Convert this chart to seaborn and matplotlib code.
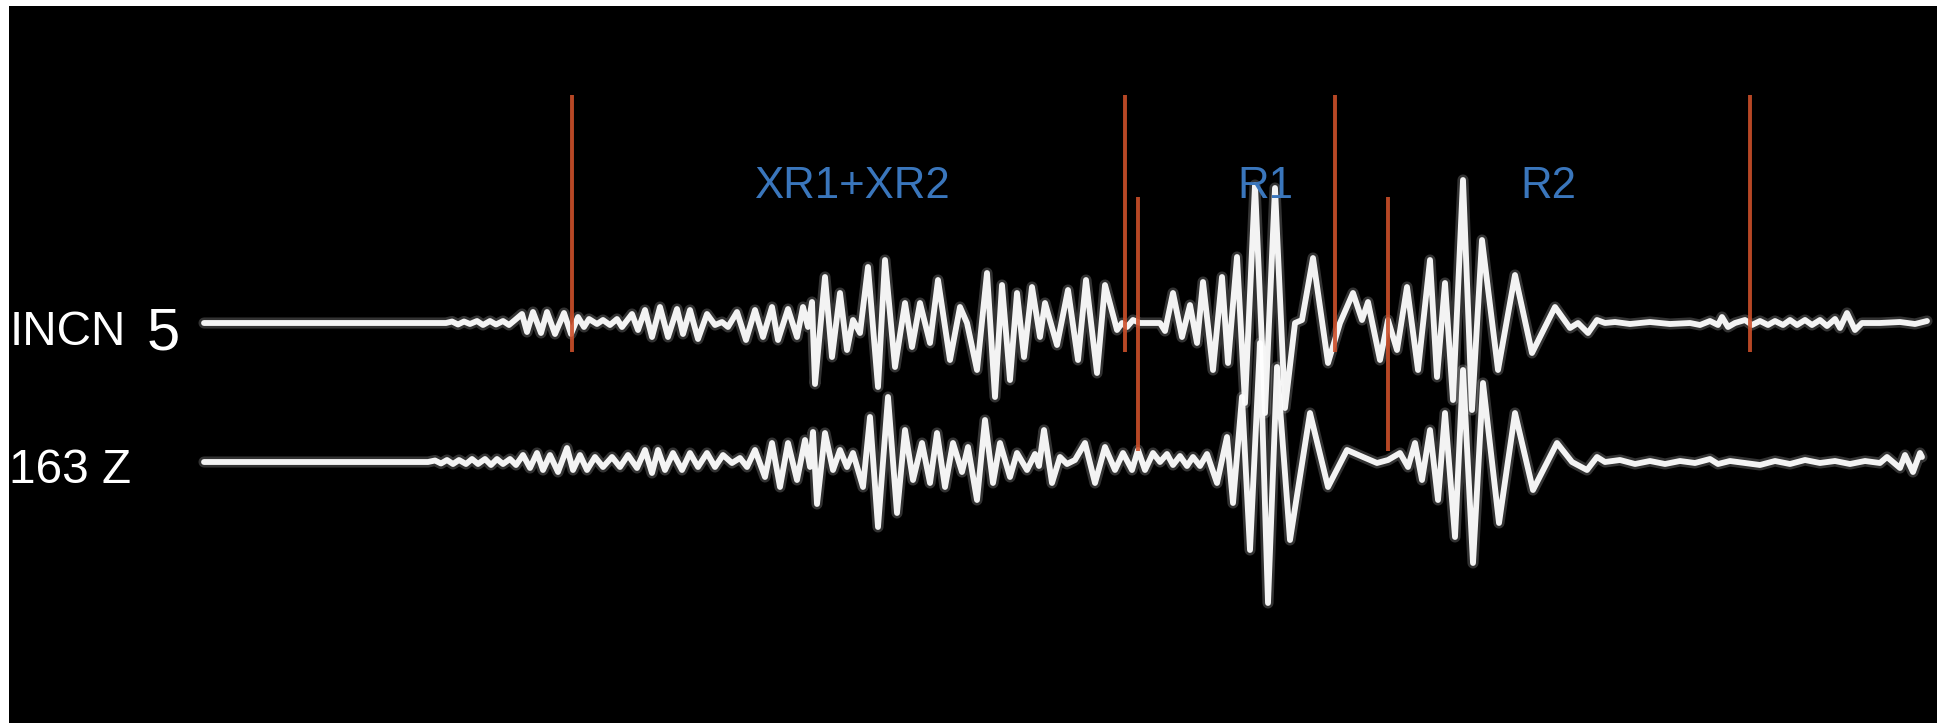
import numpy as np
import pandas as pd
import matplotlib
matplotlib.use("Agg")
import matplotlib.pyplot as plt
from matplotlib import font_manager
import seaborn as sns

# ---- seismogram samples (time in s from trace start, amplitude in counts) ----
incn_t = [0, 242, 248, 254, 260, 266, 273, 279, 286, 292, 299, 305, 311, 318, 323, 329, 337,
          343, 351, 360, 367, 374, 380, 385, 393, 399, 406, 413, 418, 428, 434, 441, 448, 456,
          464, 473, 479, 486, 494, 503, 511, 518, 524, 533, 542, 551, 559, 568, 574, 584, 593,
          599, 604, 608, 611, 621, 628, 636, 643, 649, 656, 664, 674, 681, 691, 701, 708, 716,
          726, 734, 746, 756, 763, 773, 783, 791, 798, 806, 813, 820, 828, 836, 841, 853, 864,
          874, 882, 893, 901, 913, 918, 923, 929, 936, 956, 961, 969, 978, 986, 993, 999, 1009,
          1018, 1024, 1033, 1041, 1051, 1061, 1071, 1081, 1091, 1098, 1109, 1124, 1136, 1149,
          1158, 1164, 1176, 1184, 1193, 1203, 1214, 1226, 1233, 1241, 1249, 1259, 1268, 1278,
          1294, 1311, 1328, 1336, 1351, 1366, 1374, 1384, 1393, 1401, 1411, 1426, 1446, 1466,
          1486, 1496, 1506, 1514, 1518, 1524, 1531, 1541, 1548, 1556, 1564, 1571, 1579, 1586,
          1593, 1601, 1608, 1616, 1623, 1631, 1636, 1643, 1651, 1658, 1676, 1696, 1711, 1723]
incn_amp = [0, 0, 1.5, -1.5, 1.5, -1, 2, -2, 2, -1.5, 2, -2, 3, 9, -9, 11, -10,
            11, -11, 10, -11, 6, -4, 4, -1, 3, -2, 4, -4, 9, -7, 13, -14, 16,
            -14, 14, -11, 13, -16, 9, -2, 1, -4, 11, -17, 13, -14, 16, -17, 14, -14,
            16, -4, 21, -61, 46, -34, 30, -27, 3, -10, 56, -64, 63, -44, 20, -24, 20,
            -20, 43, -37, 16, 0, -47, 50, -74, 38, -57, 30, -34, 36, -14, 20, -22, 33,
            -37, 43, -50, 38, -7, 0, -4, 3, 0, 0, -8, 30, -14, 18, -20, 41, -47,
            46, -40, 66, -80, 138, -90, 135, -85, 0, 3, 65, -40, 0, 30,
            3, 21, -37, 3, -27, 36, -47, 63, -54, 40, -77, 143, -87, 83,
            -47, 48, -30, -14, 16, -5, 0, -10, 3, 0, 1, -1, 1, -1,
            0, -2, 2, -2, 6, -4, 0, 3, -2, 2, -2, 2, -2, 3,
            -2, 3, -2, 3, -3, 4, -5, 10, -7, 0, 0, 1, -1, 2]

z_t = [0, 224, 231, 237, 243, 249, 255, 262, 268, 274, 281, 287, 293, 299, 306, 312, 319,
       326, 333, 339, 346, 354, 363, 369, 376, 383, 391, 399, 408, 416, 424, 433, 441, 448,
       454, 461, 469, 478, 486, 494, 503, 511, 519, 528, 536, 543, 551, 561, 568, 576, 584,
       593, 601, 606, 609, 613, 621, 629, 636, 643, 649, 659, 666, 674, 684, 693, 701, 709,
       718, 726, 733, 741, 749, 758, 764, 773, 781, 789, 796, 806, 813, 823, 831, 835, 840,
       848, 856, 863, 871, 881, 891, 901, 911, 919, 928, 934, 941, 949, 956, 963, 969, 976,
       983, 989, 996, 1003, 1013, 1023, 1029, 1038, 1046, 1056, 1064, 1073, 1086, 1106, 1124,
       1143, 1159, 1173, 1184, 1196, 1204, 1211, 1218, 1226, 1234, 1241, 1251, 1259, 1269,
       1279, 1295, 1311, 1329, 1353, 1368, 1383, 1393, 1401, 1416, 1431, 1446, 1461, 1476,
       1491, 1506, 1514, 1526, 1541, 1556, 1571, 1586, 1601, 1616, 1631, 1646, 1661, 1676,
       1683, 1696, 1701, 1709, 1716, 1718]
z_amp = [0, 0, 1.5, -1.5, 2, -2, 2, -2, 3, -2, 3, -3, 3, -2, 3, -3, 7,
         -6, 9, -8, 7, -10, 14, -8, 7, -8, 5, -5, 5, -5, 7, -6, 12, -11,
         12, -8, 9, -8, 9, -5, 9, -5, 7, -1, 4, -5, 12, -15, 19, -25, 19,
         -18, 22, -5, 30, -42, 29, -8, 12, -5, 9, -25, 45, -65, 65, -51, 32, -18,
         19, -21, 29, -25, 19, -10, 15, -38, 42, -21, 19, -15, 9, -8, 8, -4, 32,
         -21, 5, -2, 2, 19, -21, 15, -8, 9, -8, 12, -8, 9, 0, 8, -3, 6,
         -4, 5, -4, 8, -21, 25, -41, 65, -88, 119, -141, 95, -78, 49, -25,
         12, 5, -1, 2, 9, -5, 19, -18, 32, -38, 49, -75, 92, -101,
         79, -61, 49, -28, 19, 0, -8, 5, 0, 2, -2, 1, -2, 1,
         -1, 3, -2, 1, -1, -3, 1, -2, 2, -1, 1, -2, 1, -1,
         5, -6, 7, -10, 9, 5]

# phase picks (s) on each component
incn_picks = [368, 921, 1131, 1546]
z_picks = [934, 1184]

# phase labels
phase_names = ["XR1+XR2", "R1", "R2"]
phase_times = [648, 1061, 1344]

trace_names = ["INCN", "163 Z"]
trace_offsets = [0, -139]

traces = pd.concat([
    pd.DataFrame({"time": incn_t, "amp": np.array(incn_amp) + trace_offsets[0], "trace": trace_names[0]}),
    pd.DataFrame({"time": z_t, "amp": np.array(z_amp) + trace_offsets[1], "trace": trace_names[1]}),
])

sns.set_style("dark")
names = {f.name for f in font_manager.fontManager.ttflist}
if "Liberation Sans Narrow" in names:
    label_font = ["Liberation Sans Narrow", "DejaVu Sans"]
    fscale, lscale = 1.0, 1.0
else:
    label_font = ["Liberation Sans", "DejaVu Sans"]
    fscale, lscale = 0.9, 0.86

W, H = 1937, 723
fig = plt.figure(figsize=(W / 100, H / 100), dpi=100, facecolor="white")
ax = fig.add_axes([9 / W, 0, 1 - 9 / W, 1 - 6 / H])
ax.set_facecolor("black")

for name in trace_names:
    sub = traces[traces["trace"] == name]
    # soft halo under the trace
    sns.lineplot(data=sub, x="time", y="amp", ax=ax, color="white", linewidth=8,
                 alpha=0.2, sort=False, estimator=None, legend=False,
                 solid_joinstyle="round")
    sns.lineplot(data=sub, x="time", y="amp", ax=ax, color="white", linewidth=4.2,
                 alpha=0.95, sort=False, estimator=None, legend=False,
                 solid_joinstyle="round")

pick_color = "#cc4f2a"
ax.vlines(incn_picks, trace_offsets[0] - 29, trace_offsets[0] + 228, color=pick_color,
          linewidth=2.8, zorder=5, alpha=0.9)
ax.vlines(z_picks, trace_offsets[1] + 11, trace_offsets[1] + 265, color=pick_color,
          linewidth=2.8, zorder=5, alpha=0.9)

for name, t in zip(phase_names, phase_times):
    ax.text(t, 125, name, color="#3a76bc", fontsize=35 * fscale, ha="center",
            va="baseline", family=label_font, zorder=6)

ax.text(-194, -22, "INCN", color="white", fontsize=40 * lscale, ha="left",
        va="baseline", family=label_font)
ax.text(-57, -27, "5", color="white", fontsize=50 * lscale, ha="left",
        va="baseline", family=label_font)
ax.text(-195, -160, "163 Z", color="white", fontsize=40 * lscale, ha="left",
        va="baseline", family=label_font)

ax.set_xlim(-195, 1733)
ax.set_ylim(-400, 317)
ax.set_xticks([])
ax.set_yticks([])
ax.set_xlabel("")
ax.set_ylabel("")
ax.grid(False)
for spine in ax.spines.values():
    spine.set_visible(False)

fig.savefig("out.png", dpi=100, facecolor="white")
